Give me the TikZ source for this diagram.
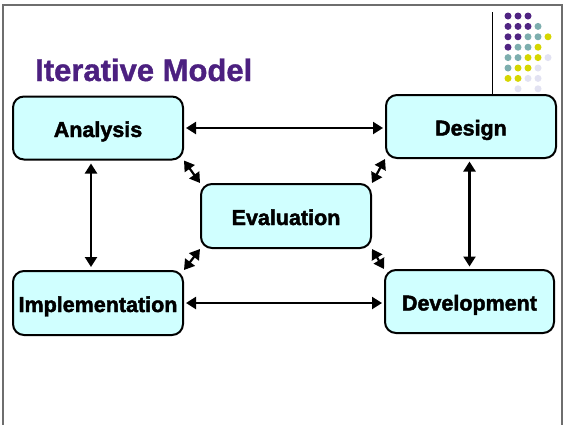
\documentclass[tikz,border=0pt]{standalone}
\usepackage{fontspec}
\setmainfont{Liberation Sans}[BoldFeatures={FakeBold=1.2}]
\newfontfamily\heavyfont{Liberation Sans}[BoldFeatures={FakeBold=2}]
\usetikzlibrary{arrows.meta}
\definecolor{boxfill}{RGB}{208,255,255}
\definecolor{titlepurple}{RGB}{76,32,128}
\definecolor{dotP}{RGB}{80,36,130}
\definecolor{dotT}{RGB}{125,174,174}
\definecolor{dotY}{RGB}{214,214,0}
\definecolor{dotL}{RGB}{226,226,242}
\definecolor{framegrey}{RGB}{110,110,110}
\tikzset{
  stagebox/.style={draw=black, line width=2pt, fill=boxfill, rounded corners=11pt,
    minimum width=170pt, minimum height=63pt, inner sep=0pt,
    text height=18pt, text depth=0pt,
    font=\heavyfont\fontsize{21.5}{24}\selectfont\bfseries},
  link/.style={line width=2.2pt, {Triangle[width=12pt,length=10pt]}-{Triangle[width=12pt,length=10pt]}},
  dotdot/.style={circle, inner sep=0pt, minimum size=7pt, draw=none},
}
\begin{document}
\begin{tikzpicture}[x=1pt,y=-1pt]
\useasboundingbox (0,0) rectangle (564,424);
\fill[white] (0,0) rectangle (564,424);
% slide frame
\draw[framegrey, line width=2pt] (3,430) -- (3,5) -- (562,5) -- (562,430);
% thin vertical line
\draw[black, line width=0.9pt] (492,12) -- (492,100);
% dot pattern
\foreach \row/\cols in {0/{0/P,1/P,2/P},1/{0/P,1/P,2/P,3/T},2/{0/P,1/P,2/T,3/T,4/Y},3/{0/P,1/T,2/T,3/Y},4/{0/T,1/T,2/Y,3/Y,4/L},5/{0/T,1/Y,2/Y,3/L},6/{0/Y,1/Y,2/L,3/L},7/{1/L,3/L}}{
  \foreach \c/\k in \cols {
    \node[dotdot, fill=dot\k] (dot-\row-\c) at (508+10*\c, 16+10.4*\row) {};
  }
}
% title
\node[anchor=base west, inner sep=0pt, text=titlepurple, font=\fontsize{31}{34}\selectfont\bfseries] (title) at (35,81) {Iterative Model};
% stages
\node[stagebox] (ana) at (98,128) {Analysis};
\node[stagebox] (des) at (471,126.5) {Design};
\node[stagebox, minimum height=64pt] (eva) at (286,216) {Evaluation};
\node[stagebox, minimum height=64pt] (imp) at (98,303) {Implementation};
\node[stagebox, minimum width=169pt] (dev) at (469.5,301.5) {Development};
% connectors
\draw[link, shorten <=2pt, shorten >=2pt] (ana.east) -- (ana.east -| des.west);
\draw[link, shorten <=2pt, shorten >=2pt] (imp.east) -- (imp.east -| dev.west);
\draw[link, shorten <=3pt, shorten >=3pt] (imp.north -| 91,0) -- (ana.south -| 91,0);
\draw[link, shorten <=2.5pt, shorten >=2.5pt] (dev.north) -- (dev.north |- des.south);
\draw[link] (ana.south east) -- (eva.north west);
\draw[link] (des.south west) -- (eva.north east);
\draw[link] (eva.south west) -- (imp.north east);
\draw[link] (eva.south east) -- (dev.north west);
\end{tikzpicture}
\end{document}
